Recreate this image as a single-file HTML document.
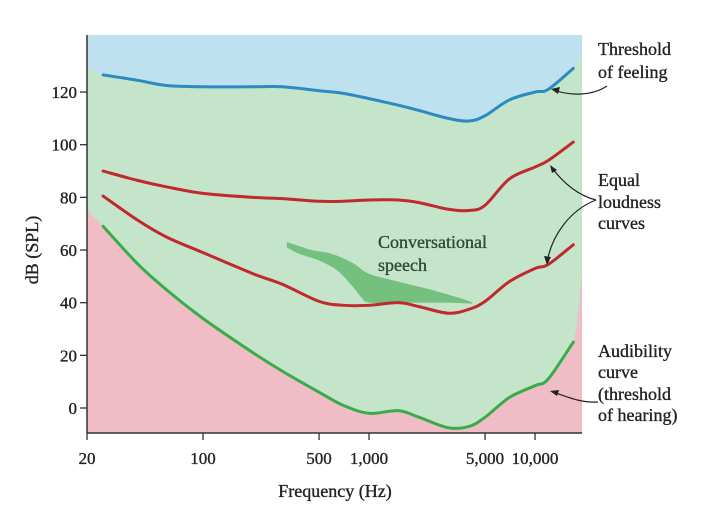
<!DOCTYPE html>
<html><head><meta charset="utf-8"><style>
body{margin:0;background:#fff;}
svg{display:block;font-family:"Liberation Serif",serif;}
text{stroke:currentColor;stroke-width:0.35px;}
</style></head><body>
<svg id="chart" width="706" height="527" viewBox="0 0 706 527">
<g id="regions"></g><g id="lines"></g><g id="axes" style="color:#222"></g>
<g fill="#222" style="color:#222" font-size="18">
<text x="598" y="55">Threshold</text>
<text x="598" y="78">of feeling</text>
<text x="598" y="186">Equal</text>
<text x="598" y="208">loudness</text>
<text x="598" y="229">curves</text>
<text x="598" y="357">Audibility</text>
<text x="598" y="378">curve</text>
<text x="598" y="400">(threshold</text>
<text x="598" y="421">of hearing)</text>
<text x="378" y="248" fill="#2d4a33" style="color:#2d4a33">Conversational</text>
<text x="378" y="271" fill="#2d4a33" style="color:#2d4a33">speech</text>
</g>
<g fill="none" stroke="#222" stroke-width="1.2">
<path d="M607,86 C592,96 570,96 554,90"/>
<path d="M596,200 C580,196 565,185 552,168"/>
<path d="M596,200 C570,210 552,235 547,262"/>
<path d="M598,402 C582,403 570,398 553,392"/>
</g>
<g fill="#222">
<polygon points="551,89 560,87 558,94"/>
<polygon points="550,165 557,170 552,173"/>
<polygon points="547,265 544,256 551,257"/>
<polygon points="550,391 559,390 557,396"/>
</g>
</svg>
<script>
const xTicks=[20,100,500,1000,5000,10000];
const xTickLabels=["20","100","500","1,000","5,000","10,000"];
const yTicks=[0,20,40,60,80,100,120];
const freqs=[25,40,60,100,200,300,500,700,1000,1500,2000,3000,4000,5000,7000,10000,12000,17000];
const feeling=[126.5,124.5,122.5,122,122,122,120.5,119.5,117.5,115,113,110,109,111,117,120,121,129];
const loud80=[90,86.5,84,81.5,80,79.5,78.5,78.5,79,79,78,75.5,75,77,87,91.5,94,101];
const loud60=[80.5,71.5,65,59,51,47,40.5,39,39,40,38.5,36,37.5,40.5,48,53,54.5,62];
const hearing=[69,55,45,34,21,14,6,1,-2,-1,-3.5,-7.5,-7,-3.5,4,8.5,11,25];
const speechF=[320,360,450,600,800,1000,1500,2500,4200,3000,1500,1000,900,800,650,500,380,320];
const speechDb=[63,62,60,58.5,55,51,48,44.5,40,40,40,40,42,46,52,56,58.5,61];
const X0=87,PX=166,FMAX=19200,YAX=433,TOP=35;
function x(f){return X0+PX*Math.log10(f/20);}
function y(d){return 408-d*2.633;}
const NS="http://www.w3.org/2000/svg";
function mk(t,a,p){const e=document.createElementNS(NS,t);for(const k in a)e.setAttribute(k,a[k]);p.appendChild(e);return e;}
function smooth(pts){let d="M"+pts[0][0]+","+pts[0][1];for(let i=0;i<pts.length-1;i++){const p0=pts[Math.max(0,i-1)],p1=pts[i],p2=pts[i+1],p3=pts[Math.min(pts.length-1,i+2)];const c1=[p1[0]+(p2[0]-p0[0])/6,p1[1]+(p2[1]-p0[1])/6],c2=[p2[0]-(p3[0]-p1[0])/6,p2[1]-(p3[1]-p1[1])/6];d+=" C"+c1+" "+c2+" "+p2;}return d;}
const R=document.getElementById('regions'),L=document.getElementById('lines'),A=document.getElementById('axes');
const xr=x(FMAX);
let e=mk('rect',{x:X0,y:TOP,width:xr-X0,height:YAX-TOP,fill:'#c5e5cb'},R);


let fp=[[X0,y(130)]].concat(freqs.map((f,i)=>[x(f),y(feeling[i])])).concat([[xr,y(135)]]);
e=mk('path',{d:smooth(fp)+" L"+xr+","+TOP+" L"+X0+","+TOP+"Z",fill:'#bde1ef'},R);


let hp=[[X0,y(75)]].concat(freqs.map((f,i)=>[x(f),y(hearing[i])])).concat([[xr,y(52)]]);
e=mk('path',{d:smooth(hp)+" L"+xr+","+YAX+" L"+X0+","+YAX+"Z",fill:'#f0bcc5'},R);


let sp=speechF.map((f,i)=>[x(f),y(speechDb[i])]);
e=mk('path',{d:smooth(sp)+"Z",fill:'#74c07f'},R);


const series=[[feeling,'#2b8bc0','threshold-of-feeling-line'],[loud80,'#c0292e','equal-loudness-upper-line'],[loud60,'#c0292e','equal-loudness-lower-line'],[hearing,'#3aab4a','audibility-curve-line']];
series.forEach(s=>{const p=freqs.map((f,i)=>[x(f),y(s[0][i])]);const el=mk('path',{d:smooth(p),fill:'none',stroke:s[1],'stroke-width':3,'stroke-linecap':'round'},L);

});
e=mk('line',{x1:X0,y1:TOP,x2:X0,y2:YAX,stroke:'#333','stroke-width':1.5},A);


e=mk('line',{x1:X0,y1:YAX,x2:xr,y2:YAX,stroke:'#333','stroke-width':1.5},A);


yTicks.forEach(v=>{mk('line',{x1:X0-7,y1:y(v),x2:X0,y2:y(v),stroke:'#333','stroke-width':1.3},A);
const t=mk('text',{x:X0-10,y:y(v)+6,'text-anchor':'end','font-size':17,fill:'#222'},A);t.textContent=v;

});
xTicks.forEach((v,i)=>{mk('line',{x1:x(v),y1:YAX,x2:x(v),y2:YAX+7,stroke:'#333','stroke-width':1.3},A);
const t=mk('text',{x:x(v),y:YAX+31,'text-anchor':'middle','font-size':17,fill:'#222'},A);t.textContent=xTickLabels[i];

});
e=mk('text',{x:335,y:497,'text-anchor':'middle','font-size':18,fill:'#222'},A);e.textContent="Frequency (Hz)";


e=mk('text',{x:0,y:0,'text-anchor':'middle','font-size':18,fill:'#222',transform:'translate(38,250) rotate(-90)'},A);e.textContent="dB (SPL)";


</script>
</body></html>
